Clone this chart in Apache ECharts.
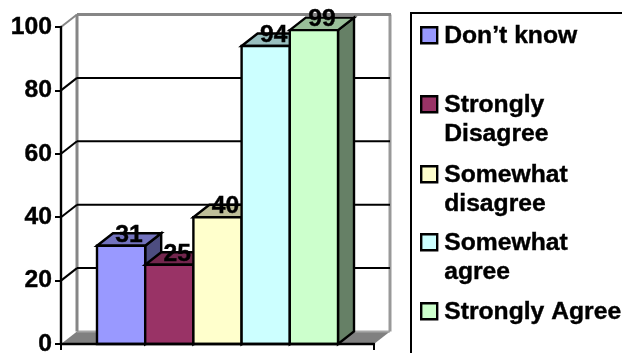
<!DOCTYPE html>
<html>
<head>
<meta charset="utf-8">
<style>
  html, body { margin: 0; padding: 0; background: #fff; overflow: hidden; }
  #chart { width: 622px; height: 353px; }
</style>
<script src="https://cdn.jsdelivr.net/npm/echarts@6/dist/echarts.min.js"></script>
</head>
<body>
<div id="chart"></div>
<script>
// Survey responses, one box per answer
const answers = ['Don’t know', 'Strongly Disagree', 'Somewhat disagree', 'Somewhat agree', 'Strongly Agree'];
const legendLabels = ['Don’t know', 'Strongly\nDisagree', 'Somewhat\ndisagree', 'Somewhat\nagree', 'Strongly Agree'];
const counts = [31, 25, 40, 94, 99];
const faceColors = ['#9999FF', '#993366', '#FFFFCC', '#CCFFFF', '#CCFFCC'];
const topColors = ['#7373BF', '#73264D', '#BFBF99', '#99BFBF', '#99BF99'];
const sideColors = ['#4D4D80', '#4D1A33', '#808066', '#668080', '#668066'];
const yTicks = [0, 20, 40, 60, 80, 100];
const legendTops = [20, 89, 159, 227, 296];

const FONT = '"Liberation Sans", Arial, sans-serif';
const TEXT_SIZE = 24.7;
const TEXT_WEIGHT = 0.4;
const DEPTH_X = 16;
const DEPTH_Y = -12.5;
const WALL = '#868686';
const BAR_SHARE = 0.154;
const OUTLINE = 2.4;

// Square swatch inside a taller box, so it lines up with the first text line
const ICON_ONE = 'path://M0 6H16V22H0Z M18 0 M18 29';
const ICON_TWO = 'path://M0 6H16V22H0Z M18 0 M18 58';

function line(x1, y1, x2, y2, stroke, width, z2) {
  return { type: 'line', z2, shape: { x1, y1, x2, y2 }, style: { stroke, lineWidth: width } };
}

function poly(points, fill, stroke, z2) {
  return { type: 'polygon', z2, shape: { points }, style: { fill, stroke, lineWidth: stroke === 'none' ? 0 : OUTLINE, lineJoin: 'miter' } };
}

// Back wall, side wall and floor of the box, one entry per value tick
function renderWall(params, api) {
  const v = api.value(0);
  const grid = params.coordSys;
  const left = grid.x, right = grid.x + grid.width;
  const y = api.coord([0, v])[1];
  const backY = y + DEPTH_Y;
  const children = [];
  if (v === 0) {
    children.push(poly([[left, y], [left + DEPTH_X, backY], [right + DEPTH_X, backY], [right, y]], '#808080', 'none', 1));
    children.push(line(left + DEPTH_X, backY, right + DEPTH_X, backY, '#A6A6A6', 2, 2));
  } else if (v === yTicks[yTicks.length - 1]) {
    const floorY = api.coord([0, 0])[1] + DEPTH_Y;
    children.push(line(left + DEPTH_X, backY, left + DEPTH_X, floorY, WALL, 3, 2));
    children.push(line(right + DEPTH_X, backY, right + DEPTH_X, floorY, '#999999', 3, 2));
    children.push(line(left + DEPTH_X, backY, right + DEPTH_X + 1, backY, WALL, 3, 2));
    children.push(line(left, y, left + DEPTH_X, backY, WALL, 2, 2));
  } else {
    children.push(line(left + DEPTH_X, backY, right + DEPTH_X, backY, '#000', 2, 3));
    children.push(line(left, y, left + DEPTH_X, backY, '#000', 2, 3));
  }
  return { type: 'group', children };
}

// One extruded bar: side and top faces behind the front face, value above
function makeBarRenderer(i) {
  return function (params, api) {
    const base = api.coord([api.value(0), 0]);
    const top = api.coord([api.value(0), api.value(1)]);
    const w = api.size([1, 0])[0] * BAR_SHARE;
    const x0 = base[0] + (i - answers.length / 2) * w;
    const x1 = x0 + w;
    const z = 10 + i * 3;
    return {
      type: 'group',
      children: [
        poly([[x1, top[1]], [x1 + DEPTH_X, top[1] + DEPTH_Y], [x1 + DEPTH_X, base[1] + DEPTH_Y], [x1, base[1]]], sideColors[i], '#000', z),
        poly([[x0, top[1]], [x0 + DEPTH_X, top[1] + DEPTH_Y], [x1 + DEPTH_X, top[1] + DEPTH_Y], [x1, top[1]]], topColors[i], '#000', z + 1),
        poly([[x0, top[1]], [x1, top[1]], [x1, base[1]], [x0, base[1]]], faceColors[i], '#000', z + 2),
        {
          type: 'text',
          z2: 100,
          style: {
            x: (x0 + x1) / 2 + 8,
            y: top[1] - 11,
            text: String(api.value(1)),
            align: 'center',
            verticalAlign: 'middle',
            font: 'bold ' + TEXT_SIZE + 'px ' + FONT,
            fill: '#000',
            stroke: '#000',
            lineWidth: TEXT_WEIGHT
          }
        }
      ]
    };
  };
}

const chart = echarts.init(document.getElementById('chart'), null, { renderer: 'canvas' });

chart.setOption({
  animation: false,
  backgroundColor: '#fff',
  grid: { left: 61, right: 248, top: 27, bottom: 9, outerBoundsMode: 'none' },
  xAxis: {
    type: 'category',
    data: [''],
    axisLine: { onZero: false, lineStyle: { color: '#000', width: 2.4 } },
    axisTick: { show: true, length: 6, lineStyle: { color: '#000', width: 2 } },
    axisLabel: { show: false },
    z: 50
  },
  yAxis: {
    type: 'value',
    min: 0,
    max: 100,
    interval: 20,
    splitLine: { show: false },
    axisLine: { show: true, lineStyle: { color: '#000', width: 2.4 } },
    axisTick: { show: true, length: 6, lineStyle: { color: '#000', width: 2 } },
    axisLabel: {
      color: '#000', fontFamily: FONT, fontWeight: 'bold', fontSize: TEXT_SIZE, margin: 9,
      textBorderColor: '#000', textBorderWidth: TEXT_WEIGHT
    },
    z: 50
  },
  legend: answers.map((name, i) => ({
    data: [name],
    left: 420,
    top: legendTops[i],
    orient: 'vertical',
    padding: 0,
    itemWidth: 18,
    itemHeight: legendLabels[i].includes('\n') ? 58 : 29,
    icon: legendLabels[i].includes('\n') ? ICON_TWO : ICON_ONE,
    symbolKeepAspect: false,
    itemStyle: { color: faceColors[i], borderColor: '#000', borderWidth: 2.4 },
    selectedMode: false,
    formatter: () => legendLabels[i],
    textStyle: {
      color: '#000', fontFamily: FONT, fontWeight: 'bold', fontSize: TEXT_SIZE, lineHeight: 29,
      textBorderColor: '#000', textBorderWidth: TEXT_WEIGHT
    }
  })),
  graphic: [{
    type: 'rect',
    silent: true,
    shape: { x: 411, y: 13, width: 320, height: 400 },
    style: { fill: 'none', stroke: '#000', lineWidth: 2 }
  }],
  series: [
    {
      type: 'custom',
      name: 'walls',
      silent: true,
      clip: false,
      z: 1,
      data: yTicks.map(v => [v]),
      encode: { y: 0 },
      renderItem: renderWall
    }
  ].concat(answers.map((name, i) => ({
    type: 'custom',
    name,
    silent: true,
    clip: false,
    z: 2,
    itemStyle: { color: faceColors[i] },
    data: [[0, counts[i]]],
    encode: { x: 0, y: 1 },
    renderItem: makeBarRenderer(i)
  })))
});
</script>
</body>
</html>
